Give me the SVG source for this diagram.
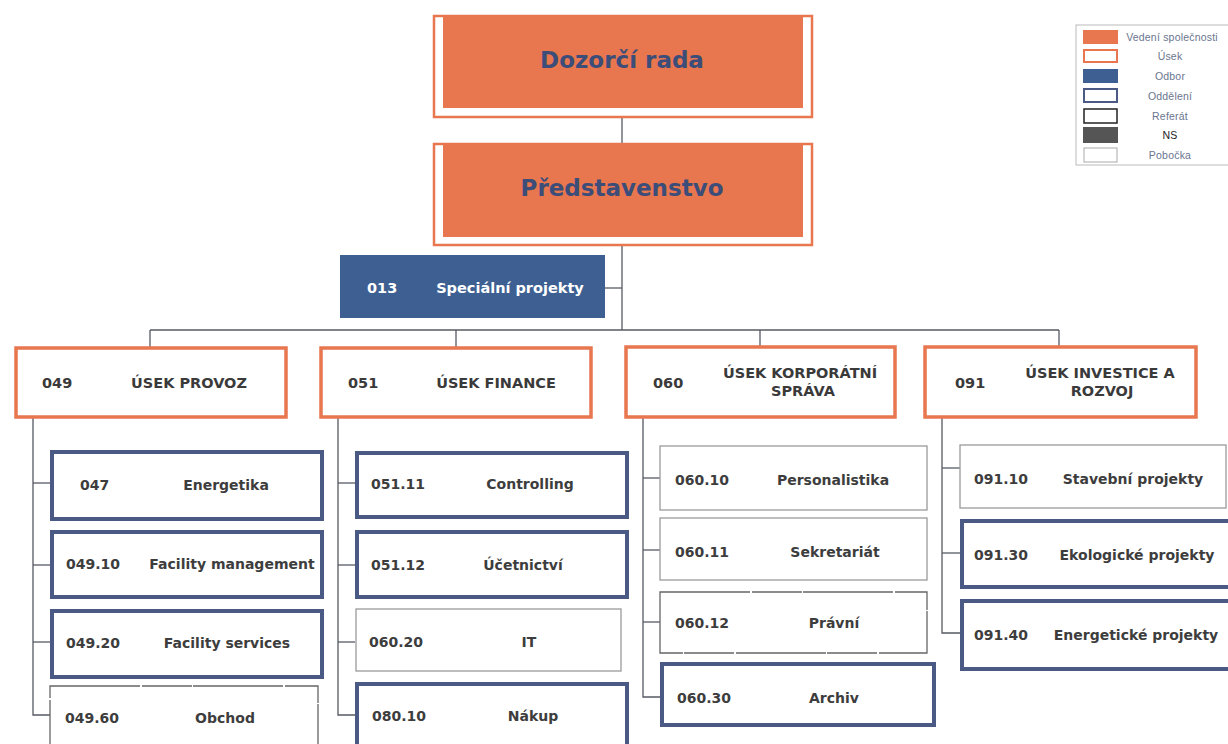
<svg xmlns="http://www.w3.org/2000/svg" width="1228" height="744" viewBox="0 0 1228 744">
<style>
.bg{fill:#ffffff}
.conn{stroke:#555a63;stroke-width:1.3;fill:none}
.top-frame{fill:#ffffff;stroke:#e8764f;stroke-width:2.5}
.top-fill{fill:#e8764f}
.top-text{font-family:"DejaVu Sans",Verdana,sans-serif;font-weight:bold;font-size:23px;fill:#3b4d78;text-anchor:middle}
.odbor{fill:#3e5f92}
.odbor-text{font-family:"DejaVu Sans",Verdana,sans-serif;font-weight:bold;font-size:14.5px;fill:#ffffff}
.usek{fill:#ffffff;stroke:#e8764f;stroke-width:3.5}
.usek-text{font-family:"DejaVu Sans",Verdana,sans-serif;font-weight:bold;font-size:14.5px;fill:#3a3a3a}
.odd{fill:#ffffff;stroke:#4a5a84;stroke-width:4}
.ref{fill:#ffffff;stroke:#9a9a9a;stroke-width:1.3}
.ref-dark{fill:#ffffff;stroke:#666666;stroke-width:1.3;stroke-dasharray:90 2 50 1}
.t{font-family:"DejaVu Sans",Verdana,sans-serif;font-weight:bold;font-size:14px;fill:#3d3d3d}
.c{text-anchor:middle}
.leg-text{font-family:"Liberation Sans",Arial,sans-serif;font-size:10.5px;fill:#6a7590;text-anchor:middle;letter-spacing:0.2px}
</style>
<rect class="bg" x="0" y="0" width="1228" height="744"/>

<g id="connectors">
  <line class="conn" x1="622" y1="117" x2="622" y2="144"/>
  <line class="conn" x1="622" y1="245" x2="622" y2="330"/>
  <line class="conn" x1="605" y1="288" x2="622" y2="288"/>
  <line class="conn" x1="150" y1="330" x2="1059" y2="330"/>
  <line class="conn" x1="150" y1="330" x2="150" y2="347"/>
  <line class="conn" x1="456" y1="330" x2="456" y2="347"/>
  <line class="conn" x1="760" y1="330" x2="760" y2="347"/>
  <line class="conn" x1="1059" y1="330" x2="1059" y2="347"/>
  <polyline class="conn" points="33,418 33,715 50,715"/>
  <line class="conn" x1="33" y1="483" x2="50" y2="483"/>
  <line class="conn" x1="33" y1="565" x2="50" y2="565"/>
  <line class="conn" x1="33" y1="642" x2="50" y2="642"/>
  <polyline class="conn" points="338,418 338,715 355,715"/>
  <line class="conn" x1="338" y1="483" x2="355" y2="483"/>
  <line class="conn" x1="338" y1="565" x2="355" y2="565"/>
  <line class="conn" x1="338" y1="642" x2="355" y2="642"/>
  <polyline class="conn" points="643,418 643,697 660,697"/>
  <line class="conn" x1="643" y1="478" x2="660" y2="478"/>
  <line class="conn" x1="643" y1="550" x2="660" y2="550"/>
  <line class="conn" x1="643" y1="622" x2="660" y2="622"/>
  <polyline class="conn" points="942,417 942,633 960,633"/>
  <line class="conn" x1="942" y1="468" x2="960" y2="468"/>
  <line class="conn" x1="942" y1="553" x2="960" y2="553"/>
</g>

<g id="dozorci-rada">
  <rect class="top-frame" x="434" y="16" width="378" height="101"/>
  <rect class="top-fill" x="443" y="16" width="360" height="92"/>
  <text class="top-text" x="622" y="68">Dozorčí rada</text>
</g>
<g id="predstavenstvo">
  <rect class="top-frame" x="434" y="144" width="378" height="101"/>
  <rect class="top-fill" x="443" y="144" width="360" height="93"/>
  <text class="top-text" x="622" y="196">Představenstvo</text>
</g>
<g id="n013">
  <rect class="odbor" x="340" y="255" width="265" height="63"/>
  <text class="odbor-text" x="367" y="293">013</text>
  <text class="odbor-text c" x="510" y="293">Speciální projekty</text>
</g>

<g id="n049">
  <rect class="usek" x="16" y="348" width="270" height="69"/>
  <text class="usek-text" x="42" y="388">049</text>
  <text class="usek-text c" x="189" y="388">ÚSEK PROVOZ</text>
</g>
<g id="n051">
  <rect class="usek" x="321" y="348" width="270" height="69"/>
  <text class="usek-text" x="348" y="388">051</text>
  <text class="usek-text c" x="496" y="388">ÚSEK FINANCE</text>
</g>
<g id="n060">
  <rect class="usek" x="626" y="347" width="269" height="70"/>
  <text class="usek-text" x="653" y="388">060</text>
  <text class="usek-text c" x="800" y="378">ÚSEK KORPORÁTNÍ</text>
  <text class="usek-text c" x="803" y="396">SPRÁVA</text>
</g>
<g id="n091">
  <rect class="usek" x="925" y="347" width="271" height="70"/>
  <text class="usek-text" x="955" y="388">091</text>
  <text class="usek-text c" x="1100" y="378">ÚSEK INVESTICE A</text>
  <text class="usek-text c" x="1102" y="396">ROZVOJ</text>
</g>

<g id="n047">
  <rect class="odd" x="52" y="452" width="270" height="67"/>
  <text class="t" x="80" y="490">047</text>
  <text class="t c" x="226" y="490">Energetika</text>
</g>
<g id="n049-10">
  <rect class="odd" x="52" y="532" width="270" height="65"/>
  <text class="t" x="66" y="569">049.10</text>
  <text class="t c" x="232" y="569">Facility management</text>
</g>
<g id="n049-20">
  <rect class="odd" x="52" y="611" width="270" height="66"/>
  <text class="t" x="66" y="648">049.20</text>
  <text class="t c" x="227" y="648">Facility services</text>
</g>
<g id="n049-60">
  <rect class="ref-dark" x="50" y="686" width="268" height="70"/>
  <text class="t" x="65" y="723">049.60</text>
  <text class="t c" x="225" y="723">Obchod</text>
</g>

<g id="n051-11">
  <rect class="odd" x="357" y="453" width="270" height="64"/>
  <text class="t" x="371" y="489">051.11</text>
  <text class="t c" x="530" y="489">Controlling</text>
</g>
<g id="n051-12">
  <rect class="odd" x="357" y="532" width="270" height="65"/>
  <text class="t" x="371" y="570">051.12</text>
  <text class="t c" x="523" y="570">Účetnictví</text>
</g>
<g id="n060-20">
  <rect class="ref" x="356" y="609" width="265" height="62"/>
  <text class="t" x="369" y="647">060.20</text>
  <text class="t c" x="529" y="647">IT</text>
</g>
<g id="n080-10">
  <rect class="odd" x="357" y="684" width="270" height="70"/>
  <text class="t" x="372" y="721">080.10</text>
  <text class="t c" x="533" y="721">Nákup</text>
</g>

<g id="n060-10">
  <rect class="ref" x="660" y="446" width="267" height="64"/>
  <text class="t" x="675" y="485">060.10</text>
  <text class="t c" x="833" y="485">Personalistika</text>
</g>
<g id="n060-11">
  <rect class="ref" x="660" y="518" width="267" height="62"/>
  <text class="t" x="675" y="557">060.11</text>
  <text class="t c" x="835" y="557">Sekretariát</text>
</g>
<g id="n060-12">
  <rect class="ref-dark" x="660" y="592" width="267" height="61"/>
  <text class="t" x="675" y="628">060.12</text>
  <text class="t c" x="834" y="628">Právní</text>
</g>
<g id="n060-30">
  <rect class="odd" x="662" y="664" width="272" height="61"/>
  <text class="t" x="677" y="703">060.30</text>
  <text class="t c" x="834" y="703">Archiv</text>
</g>

<g id="n091-10">
  <rect class="ref" x="960" y="445" width="266" height="63"/>
  <text class="t" x="974" y="484">091.10</text>
  <text class="t c" x="1133" y="484">Stavební projekty</text>
</g>
<g id="n091-30">
  <rect class="odd" x="962" y="521" width="272" height="66"/>
  <text class="t" x="974" y="560">091.30</text>
  <text class="t c" x="1137" y="560">Ekologické projekty</text>
</g>
<g id="n091-40">
  <rect class="odd" x="962" y="601" width="272" height="68"/>
  <text class="t" x="974" y="640">091.40</text>
  <text class="t c" x="1136" y="640">Energetické projekty</text>
</g>

<g id="legend">
  <rect x="1076" y="25" width="154" height="140" fill="#ffffff" stroke="#bbbbbb" stroke-width="1"/>
  <rect x="1083" y="30" width="35" height="14" fill="#e8764f"/>
  <text class="leg-text" x="1172" y="41">Vedení společnosti</text>
  <rect x="1084" y="50" width="33" height="12" fill="#ffffff" stroke="#e8764f" stroke-width="2"/>
  <text class="leg-text" x="1170" y="60">Úsek</text>
  <rect x="1083" y="69" width="35" height="14" fill="#3e5f92"/>
  <text class="leg-text" x="1170" y="80">Odbor</text>
  <rect x="1084" y="89" width="33" height="13" fill="#ffffff" stroke="#4a5a84" stroke-width="2"/>
  <text class="leg-text" x="1170" y="100">Oddělení</text>
  <rect x="1084" y="109" width="33" height="14" fill="#ffffff" stroke="#222222" stroke-width="1.5"/>
  <text class="leg-text" x="1170" y="120">Referát</text>
  <rect x="1083" y="127" width="35" height="16" fill="#555555"/>
  <text class="leg-text" x="1170" y="139" style="fill:#222222">NS</text>
  <rect x="1084" y="148" width="33" height="14" fill="#ffffff" stroke="#aaaaaa" stroke-width="1"/>
  <text class="leg-text" x="1170" y="159">Pobočka</text>
</g>
</svg>
